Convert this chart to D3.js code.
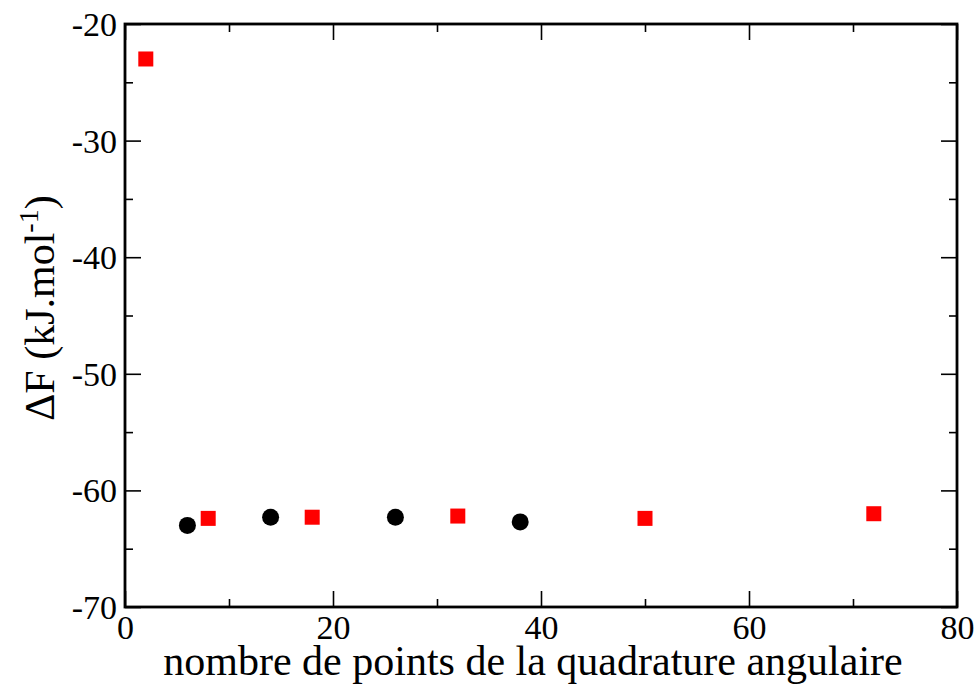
<!DOCTYPE html>
<html>
<head>
<meta charset="utf-8">
<script src="https://cdn.jsdelivr.net/npm/d3@7"></script>
<style>
  html, body { margin: 0; padding: 0; background: #fff; }
  svg { display: block; }
  svg text { font-family: "Liberation Serif", "Times New Roman", serif !important; fill: #000; }
</style>
</head>
<body>
<svg id="chart" width="976" height="684"></svg>
<script>
// ---- data ----
const squaresX = [2, 8, 18, 32, 50, 72];
const squaresY = [-23.0, -62.4, -62.3, -62.2, -62.4, -62.0];
const circlesX = [6, 14, 26, 38];
const circlesY = [-63.0, -62.3, -62.3, -62.7];
const xTicks = [0, 20, 40, 60, 80];
const yTicks = [-70, -60, -50, -40, -30, -20];
const xMinor = [10, 30, 50, 70];
const yMinor = [-65, -55, -45, -35, -25];
const xTitle = "nombre de points de la quadrature angulaire";

// ---- layout ----
const svg = d3.select("#chart");
const L = 125, R = 957, T = 24, B = 607;
const x = d3.scaleLinear().domain([0, 80]).range([L, R]);
const y = d3.scaleLinear().domain([-70, -20]).range([B, T]);
const fmt = d => String(d); // plain hyphen-minus as in the reference

const g = svg.append("g");

function styleAxis(sel) {
  sel.attr("font-family", "Liberation Serif").attr("font-size", 34);
  sel.select(".domain").remove();
  sel.selectAll(".tick line").attr("stroke", "#000").attr("stroke-width", 1.6);
}

// bottom
g.append("g").attr("transform", `translate(0,${B})`)
  .call(d3.axisBottom(x).tickValues(xTicks).tickSize(-16).tickPadding(7).tickFormat(fmt))
  .call(styleAxis)
  .selectAll("text").attr("y", 7).attr("dy", "0.74em");
g.append("g").attr("transform", `translate(0,${B})`)
  .call(d3.axisBottom(x).tickValues(xMinor).tickSize(-8).tickFormat(""))
  .call(styleAxis);
// top
g.append("g").attr("transform", `translate(0,${T})`)
  .call(d3.axisTop(x).tickValues(xTicks).tickSize(-16).tickFormat(""))
  .call(styleAxis);
g.append("g").attr("transform", `translate(0,${T})`)
  .call(d3.axisTop(x).tickValues(xMinor).tickSize(-8).tickFormat(""))
  .call(styleAxis);
// left
g.append("g").attr("transform", `translate(${L},0)`)
  .call(d3.axisLeft(y).tickValues(yTicks).tickSize(-16).tickFormat(fmt))
  .call(styleAxis)
  .selectAll("text").attr("x", -8).attr("dy", "0.34em");
g.append("g").attr("transform", `translate(${L},0)`)
  .call(d3.axisLeft(y).tickValues(yMinor).tickSize(-8).tickFormat(""))
  .call(styleAxis);
// right
g.append("g").attr("transform", `translate(${R},0)`)
  .call(d3.axisRight(y).tickValues(yTicks).tickSize(-16).tickFormat(""))
  .call(styleAxis);
g.append("g").attr("transform", `translate(${R},0)`)
  .call(d3.axisRight(y).tickValues(yMinor).tickSize(-8).tickFormat(""))
  .call(styleAxis);

// frame
g.append("rect").attr("x", L).attr("y", T).attr("width", R - L).attr("height", B - T)
  .attr("fill", "none").attr("stroke", "#000").attr("stroke-width", 2.8);

// data marks
const sq = 15;
g.append("g").selectAll("rect.sq").data(squaresX.map((d, i) => [d, squaresY[i]]))
  .join("rect").attr("class", "sq")
  .attr("x", d => x(d[0]) - sq / 2).attr("y", d => y(d[1]) - sq / 2)
  .attr("width", sq).attr("height", sq).attr("fill", "#ff0000");

g.append("g").selectAll("circle").data(circlesX.map((d, i) => [d, circlesY[i]]))
  .join("circle")
  .attr("cx", d => x(d[0])).attr("cy", d => y(d[1])).attr("r", 8.5).attr("fill", "#000");

// axis titles
svg.append("text").attr("x", 533).attr("y", 675).attr("text-anchor", "middle")
  .attr("font-family", "Liberation Serif").attr("font-size", 42).text(xTitle);

const yt = svg.append("text").attr("transform", "translate(54,308) rotate(-90)")
  .attr("text-anchor", "middle").attr("font-family", "Liberation Serif").attr("font-size", 42);
yt.append("tspan").text("ΔF (kJ.mol");
yt.append("tspan").attr("font-size", 28).attr("dy", -16).text("-1");
yt.append("tspan").attr("dy", 16).text(")");
</script>
</body>
</html>
